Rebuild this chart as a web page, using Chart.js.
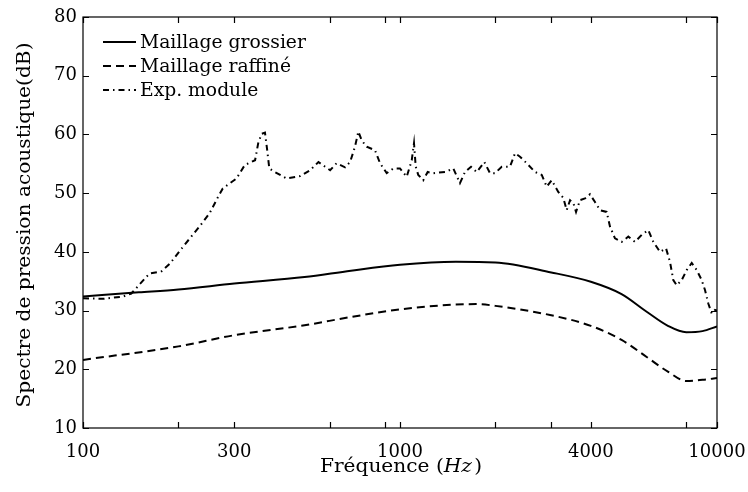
<!DOCTYPE html>
<html>
<head>
<meta charset="utf-8">
<script src="https://cdn.jsdelivr.net/npm/chart.js@4/dist/chart.umd.min.js"></script>
<style>
html,body{margin:0;padding:0;background:#fff;}
canvas{display:block;}
</style>
</head>
<body>
<canvas id="c" width="748" height="492"></canvas>
<script>
// ---- data ----
const seriesNames = ["Maillage grossier", "Maillage raffiné", "Exp. module"];

const coarseFreq = [100, 150, 200, 300, 500, 700, 1000, 1500, 2000, 3000, 4000, 5000, 6000, 7000, 8000, 9000, 10000];
const coarseDb   = [32.4, 33.1, 33.6, 34.6, 35.7, 36.8, 37.8, 38.3, 38.2, 36.5, 34.9, 32.8, 29.8, 27.4, 26.3, 26.5, 27.3];

const fineFreq = [100, 200, 300, 500, 700, 1000, 1740, 2000, 3000, 4000, 5000, 6000, 7000, 8000, 9000, 10000];
const fineDb   = [21.6, 23.9, 25.8, 27.5, 28.9, 30.2, 31.1, 30.8, 29.2, 27.4, 25.0, 22.1, 19.6, 18.0, 18.2, 18.5];

const expFreq = [100, 116, 134, 142, 162, 177, 188, 207, 233, 251, 267, 276, 291, 305, 324, 349, 357, 366, 375, 380, 387, 403, 439, 484, 520, 553, 602, 631, 671, 696, 721, 739, 757, 785, 834, 865, 908, 953, 1000, 1050, 1089, 1107, 1121, 1142, 1184, 1223, 1274, 1321, 1387, 1473, 1546, 1603, 1675, 1746, 1845, 1923, 1994, 2094, 2223, 2306, 2391, 2509, 2667, 2800, 2903, 3010, 3157, 3274, 3356, 3439, 3522, 3592, 3697, 3833, 3975, 4122, 4275, 4488, 4597, 4767, 5005, 5251, 5512, 5788, 6072, 6297, 6610, 6905, 7108, 7280, 7463, 7739, 8025, 8322, 8630, 8946, 9165, 9388, 9623, 9856, 10000];
const expDb   = [32.1, 32.0, 32.4, 32.9, 36.3, 36.7, 38.0, 40.9, 44.3, 46.6, 49.4, 50.8, 51.7, 52.5, 54.8, 55.6, 58.5, 60.1, 60.3, 57.9, 54.2, 53.6, 52.5, 52.9, 53.9, 55.3, 53.9, 55.1, 54.4, 55.3, 57.9, 60.5, 59.0, 57.9, 57.3, 55.1, 53.4, 54.2, 54.2, 52.8, 55.6, 58.5, 54.5, 53.1, 52.2, 53.6, 53.4, 53.5, 53.6, 54.2, 51.7, 53.6, 54.5, 53.6, 55.3, 53.4, 53.4, 54.5, 54.5, 56.8, 56.2, 55.1, 53.6, 53.1, 51.1, 52.2, 50.2, 49.2, 47.1, 48.8, 48.3, 46.8, 48.8, 49.1, 49.8, 48.5, 47.1, 46.8, 44.3, 42.3, 41.7, 42.6, 41.7, 42.9, 43.7, 41.7, 40.0, 40.6, 38.3, 35.2, 34.3, 35.2, 36.9, 38.1, 36.9, 35.2, 33.5, 31.2, 29.5, 30.1, 30.0];

const xTickLabels = [100, 300, 1000, 4000, 10000];
const xTickMarks  = [100, 200, 300, 600, 900, 1000, 2000, 3000, 4000, 8000, 10000];
const yTicks = [10, 20, 30, 40, 50, 60, 70, 80];
const yTitle = "Spectre de pression acoustique(dB)";
const xTitleA = "Fréquence (";
const xTitleB = "Hz";
const xTitleC = ")";

// ---- chart ----
const FONT = "DejaVu Serif";
function pts(f, v){ return f.map((x,i)=>({x:x, y:v[i]})); }

const styles = [
  {dash: [], width: 2},
  {dash: [8,5], width: 2},
  {dash: [6,4,1.5,4], width: 2}
];

const deco = {
  id: 'deco',
  afterDraw(chart){
    const ctx = chart.ctx, a = chart.chartArea;
    const xs = chart.scales.x, ys = chart.scales.y;
    ctx.save();
    ctx.strokeStyle = '#000';
    ctx.lineWidth = 1.2;
    ctx.setLineDash([]);
    ctx.strokeRect(a.left, a.top, a.right - a.left, a.bottom - a.top);
    const L = 6;
    ctx.beginPath();
    yTicks.forEach(v=>{
      const y = Math.round(ys.getPixelForValue(v)) + 0.5;
      ctx.moveTo(a.left, y); ctx.lineTo(a.left + L, y);
      ctx.moveTo(a.right, y); ctx.lineTo(a.right - L, y);
    });
    xTickMarks.forEach(v=>{
      const x = Math.round(xs.getPixelForValue(v)) + 0.5;
      ctx.moveTo(x, a.bottom); ctx.lineTo(x, a.bottom - L);
      ctx.moveTo(x, a.top); ctx.lineTo(x, a.top + L);
    });
    ctx.stroke();

    // legend
    const rows = [42, 66, 90];
    ctx.font = "18px '" + FONT + "'";
    ctx.fillStyle = '#000';
    ctx.textBaseline = 'middle';
    ctx.textAlign = 'left';
    seriesNames.forEach((n,i)=>{
      ctx.beginPath();
      ctx.lineWidth = styles[i].width;
      ctx.setLineDash(styles[i].dash);
      ctx.moveTo(103, rows[i]); ctx.lineTo(136, rows[i]);
      ctx.stroke();
      ctx.setLineDash([]);
      ctx.save();
      ctx.translate(140, rows[i] + 1);
      ctx.scale(1.04, 1);
      ctx.fillText(n, 0, 0);
      ctx.restore();
    });

    const SX = 1.12;
    // y title
    ctx.save();
    ctx.translate(25, 225);
    ctx.rotate(-Math.PI/2);
    ctx.scale(SX, 1);
    ctx.textAlign = 'center';
    ctx.textBaseline = 'middle';
    ctx.fillText(yTitle, 0, 0);
    ctx.restore();

    // x title with italic Hz
    const f1 = "18px '" + FONT + "'", f2 = "italic 18px '" + FONT + "'";
    ctx.font = f1; const w1 = ctx.measureText(xTitleA).width, w3 = ctx.measureText(xTitleC).width;
    ctx.font = f2; const w2 = ctx.measureText(xTitleB).width + 2;
    ctx.save();
    ctx.translate(401, 467);
    ctx.scale(SX, 1);
    const x0 = -(w1 + w2 + w3)/2;
    ctx.textAlign = 'left';
    ctx.font = f1; ctx.fillText(xTitleA, x0, 0);
    ctx.font = f2; ctx.fillText(xTitleB, x0 + w1, 0);
    ctx.font = f1; ctx.fillText(xTitleC, x0 + w1 + w2, 0);
    ctx.restore();
    ctx.restore();
  }
};

new Chart(document.getElementById('c'), {
  type: 'line',
  data: {
    datasets: [
      {label: seriesNames[0], data: pts(coarseFreq, coarseDb), borderColor: '#000', borderWidth: styles[0].width, borderDash: styles[0].dash, pointRadius: 0, cubicInterpolationMode: 'monotone', fill: false},
      {label: seriesNames[1], data: pts(fineFreq, fineDb), borderColor: '#000', borderWidth: styles[1].width, borderDash: styles[1].dash, pointRadius: 0, cubicInterpolationMode: 'monotone', fill: false},
      {label: seriesNames[2], data: pts(expFreq, expDb), borderColor: '#000', borderWidth: styles[2].width, borderDash: styles[2].dash, pointRadius: 0, tension: 0, fill: false}
    ]
  },
  options: {
    responsive: false,
    animation: false,
    events: [],
    layout: {padding: {left: 0, right: 31, top: 17, bottom: 0}},
    plugins: {legend: {display: false}, tooltip: {enabled: false}, title: {display: false}},
    scales: {
      x: {
        type: 'logarithmic', min: 100, max: 10000,
        grid: {display: false, drawTicks: false},
        border: {display: false},
        afterBuildTicks: s => { s.ticks = xTickLabels.map(v=>({value: v})); },
        afterFit: s => { s.height = 64; s.paddingLeft = 0; s.paddingRight = 0; },
        ticks: {autoSkip: false, maxRotation: 0, padding: 14, color: '#000', font: {family: FONT, size: 18}, callback: v => String(v)}
      },
      y: {
        min: 10, max: 80,
        grid: {display: false, drawTicks: false},
        border: {display: false},
        afterBuildTicks: s => { s.ticks = yTicks.map(v=>({value: v})); },
        afterFit: s => { s.width = 83; s.paddingTop = 0; s.paddingBottom = 0; },
        ticks: {padding: 6, color: '#000', font: {family: FONT, size: 18}}
      }
    }
  },
  plugins: [deco]
});
</script>
</body>
</html>
